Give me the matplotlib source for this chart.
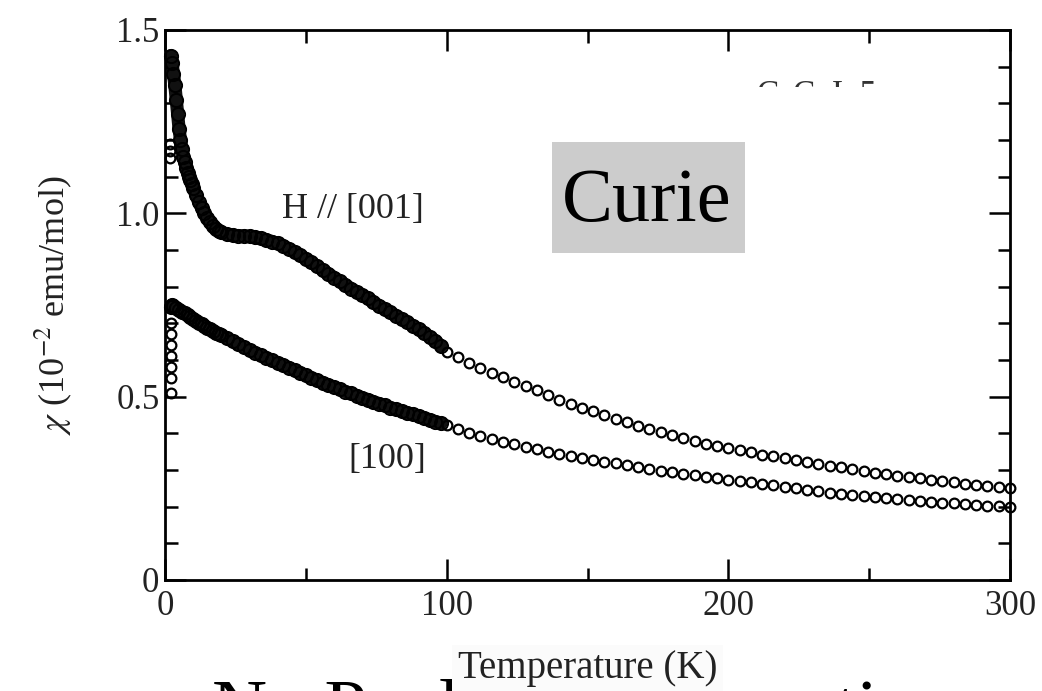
import numpy as np
import matplotlib
matplotlib.use("Agg")
import matplotlib.pyplot as plt
from matplotlib.ticker import MultipleLocator
from matplotlib.patches import Rectangle
from matplotlib.transforms import Bbox

plt.rcParams['font.family'] = ['Liberation Serif', 'DejaVu Serif']
plt.rcParams['mathtext.fontset'] = 'stix'

# H // [001] -- dense low-temperature sweep
T_001_low = [2.0, 2.5, 3.0, 3.5, 4.0, 4.5, 5.0, 5.5, 6.0, 6.5, 7.0, 7.5, 8.0, 8.5,
             9.0, 9.5, 10, 11, 12, 13, 14, 15, 16, 17, 18, 19, 20, 22, 24, 26,
             28, 30, 32, 34, 36, 38, 40, 42, 44, 46, 48, 50, 52, 54, 56, 58,
             60, 62, 64, 66, 68, 70, 72, 74, 76, 78, 80, 82, 84, 86, 88, 90,
             92, 94, 96, 98]
chi_001_low = [1.43, 1.41, 1.38, 1.35, 1.31, 1.27, 1.23, 1.20, 1.175, 1.155, 1.14, 1.125,
               1.11, 1.10, 1.09, 1.08, 1.07, 1.05, 1.03, 1.015, 1.00, 0.988, 0.976,
               0.966, 0.958, 0.952, 0.948, 0.943, 0.940, 0.939, 0.938, 0.937, 0.935,
               0.932, 0.928, 0.923, 0.918, 0.911, 0.903, 0.895, 0.886, 0.876, 0.866,
               0.856, 0.845, 0.835, 0.825, 0.815, 0.805, 0.795, 0.786, 0.777, 0.768,
               0.758, 0.748, 0.739, 0.730, 0.721, 0.712, 0.703, 0.693, 0.684, 0.674,
               0.663, 0.652, 0.638]
# stray low-T points off the main branch
T_001_extra = [1.8, 1.8, 1.8]
chi_001_extra = [1.15, 1.17, 1.19]

# [100] -- dense low-temperature sweep
T_100_low = [2.0, 2.5, 3.0, 4.0, 5.0, 6.0, 7.0, 8.0, 9.0, 10, 11, 12, 13, 14, 15, 16,
             17, 18, 19, 20, 22, 24, 26, 28, 30, 32, 34, 36, 38, 40, 42, 44, 46,
             48, 50, 52, 54, 56, 58, 60, 62, 64, 66, 68, 70, 72, 74, 76, 78, 80,
             82, 84, 86, 88, 90, 92, 94, 96, 98]
chi_100_low = [0.745, 0.750, 0.748, 0.742, 0.737, 0.732, 0.727, 0.722, 0.717, 0.712,
               0.707, 0.702, 0.697, 0.692, 0.688, 0.684, 0.679, 0.675, 0.671, 0.667,
               0.659, 0.651, 0.643, 0.635, 0.627, 0.620, 0.613, 0.606, 0.599, 0.592,
               0.586, 0.579, 0.572, 0.565, 0.558, 0.551, 0.545, 0.538, 0.532, 0.526,
               0.520, 0.514, 0.509, 0.503, 0.497, 0.492, 0.486, 0.481, 0.476, 0.470,
               0.466, 0.461, 0.456, 0.452, 0.447, 0.442, 0.437, 0.432, 0.428]
T_100_extra = [2.0, 2.0, 2.0, 2.0, 2.0, 2.0, 2.0]
chi_100_extra = [0.51, 0.55, 0.58, 0.61, 0.64, 0.67, 0.70]

# sparser sweep 100 - 300 K, shared temperature grid
T_high = [100, 104, 108, 112, 116, 120, 124, 128, 132, 136, 140, 144, 148, 152, 156,
          160, 164, 168, 172, 176, 180, 184, 188, 192, 196, 200, 204, 208, 212, 216,
          220, 224, 228, 232, 236, 240, 244, 248, 252, 256, 260, 264, 268, 272, 276,
          280, 284, 288, 292, 296, 300]
chi_001_high = [0.622, 0.608, 0.593, 0.579, 0.565, 0.553, 0.541, 0.529, 0.517, 0.505,
                0.490, 0.480, 0.470, 0.460, 0.450, 0.440, 0.430, 0.421, 0.412, 0.403,
                0.395, 0.387, 0.379, 0.372, 0.366, 0.360, 0.354, 0.348, 0.342, 0.337,
                0.332, 0.327, 0.322, 0.317, 0.312, 0.307, 0.302, 0.297, 0.293, 0.289,
                0.285, 0.281, 0.277, 0.273, 0.270, 0.267, 0.263, 0.260, 0.257, 0.254,
                0.251]
chi_100_high = [0.423, 0.412, 0.402, 0.393, 0.385, 0.377, 0.370, 0.363, 0.356, 0.350,
                0.344, 0.338, 0.333, 0.328, 0.323, 0.318, 0.313, 0.308, 0.303, 0.298,
                0.294, 0.290, 0.286, 0.282, 0.278, 0.274, 0.270, 0.266, 0.262, 0.258,
                0.254, 0.250, 0.246, 0.242, 0.238, 0.235, 0.232, 0.229, 0.226, 0.223,
                0.220, 0.217, 0.215, 0.213, 0.211, 0.209, 0.207, 0.205, 0.203, 0.201,
                0.199]

xticks = [0, 100, 200, 300]
yticks = [0, 0.5, 1.0, 1.5]
yticklabels = ['0', '0.5', '1.0', '1.5']

W, H = 1042, 691
fig = plt.figure(figsize=(W / 100, H / 100), dpi=100)
ax = fig.add_axes([165 / W, 1 - 580 / H, 845 / W, 550 / H])

mk = dict(marker='o', ls='none', mfc='none', mec='black', ms=7, mew=1.6, clip_on=False)

# below 100 K the symbols pile up into a solid band
for T, chi in [(T_001_low, chi_001_low), (T_100_low, chi_100_low)]:
    ax.plot(T, chi, '-', color='#111111', lw=9.5, solid_capstyle='round',
            solid_joinstyle='round', clip_on=False)
    ax.plot(T, chi, marker='o', ls='none', mfc='none', mec='black', ms=9.5,
            mew=1.4, clip_on=False)
for T, chi in [(T_001_extra, chi_001_extra), (T_100_extra, chi_100_extra),
               (T_high, chi_001_high), (T_high, chi_100_high)]:
    ax.plot(T, chi, **mk)

ax.set_xlim(0, 300)
ax.set_ylim(0, 1.5)
ax.set_xticks(xticks)
ax.set_xticklabels([str(t) for t in xticks])
ax.set_yticks(yticks)
ax.set_yticklabels(yticklabels)
ax.xaxis.set_minor_locator(MultipleLocator(50))
ax.yaxis.set_minor_locator(MultipleLocator(0.1))
ax.tick_params(which='both', direction='in', top=True, right=True, width=1.8,
               labelsize=25, colors='black', labelcolor='#222222')
ax.tick_params(which='major', length=15)
ax.tick_params(which='minor', length=9)
ax.tick_params(axis='x', pad=7)
ax.tick_params(axis='y', pad=4)
for sp in ax.spines.values():
    sp.set_linewidth(2)

ax.set_xlabel('Temperature (K)', fontsize=28, color='#222222',
              bbox=dict(boxstyle='square,pad=0.15', facecolor='#fbfbfb',
                        edgecolor='none'))
ax.xaxis.set_label_coords(0.5, -0.128)
ax.set_ylabel(r'$\chi$ (10$^{-2}$ emu/mol)', fontsize=26, color='#222222')
ax.yaxis.set_label_coords(-0.108, 0.5)

ax.text(282 / W, 1 - 218 / H, 'H // [001]', transform=fig.transFigure,
        fontsize=26, color='#222222', ha='left', va='baseline')
ax.text(348 / W, 1 - 468 / H, '[100]', transform=fig.transFigure,
        fontsize=26, color='#222222', ha='left', va='baseline')

# compound name, mostly hidden under the slide overlay
name = fig.text(757 / W, 1 - 103 / H, 'CeCoIn5', fontsize=24, color='#333333',
                ha='left', va='baseline')
name.set_clip_box(Bbox.from_extents(700, H - 87, 1000, H - 60))
name.set_clip_on(True)

# slide overlay: gray label box and caption (caption sits behind the chart)
fig.add_artist(Rectangle((552 / W, 1 - 253 / H), 193 / W, 111 / H,
                         transform=fig.transFigure, facecolor='#cccccc',
                         edgecolor='none'))
fig.text(647 / W, 1 - 221 / H, 'Curie', fontsize=55, color='black',
         ha='center', va='baseline')
fig.text(590 / W, 1 - 732 / H, 'No Pauli paramagnetism', fontsize=55,
         color='black', ha='center', va='baseline', zorder=-1)

fig.savefig('out.png', dpi=100)
